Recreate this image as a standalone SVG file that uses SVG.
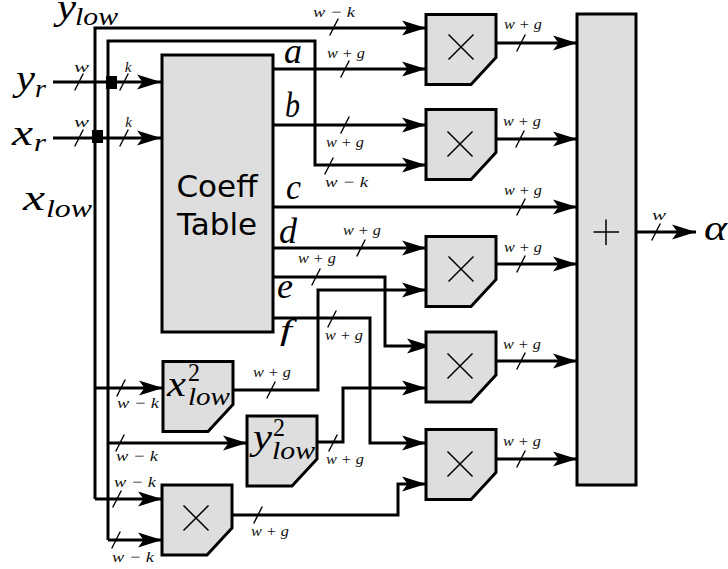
<svg xmlns="http://www.w3.org/2000/svg" width="728" height="569" viewBox="0 0 728 569">
<style>
.box{fill:#dedede;stroke:#000;stroke-width:3;stroke-linejoin:miter}
.sym{fill:none;stroke:#000;stroke-width:1.5}
.w{fill:none;stroke:#000;stroke-width:3;stroke-linejoin:miter}
.a{marker-end:url(#ah)}
.t{fill:none;stroke:#000;stroke-width:1.4}
.m{font-family:"Liberation Serif",serif;font-style:italic;fill:#000}
.big{font-size:36px}
.sub{font-size:25px}
.s{font-size:15px;text-anchor:middle;fill:#111}
.up{font-style:normal}
.co{font-family:"DejaVu Sans",sans-serif;font-size:31px;text-anchor:middle;fill:#000}
</style>
<defs>
<marker id="ah" markerUnits="userSpaceOnUse" markerWidth="26" markerHeight="18" refX="24" refY="8" orient="auto" overflow="visible">
<path d="M24 8L0 0.5L5.5 8L0 15.5Z" fill="#000"/>
</marker>
<path id="mul" class="box" d="M0 0H70V43L45 70H0Z"/>
<path id="cross" class="sym" d="M-12.500-12.500L12.500 12.500M-12.500 12.500L12.500-12.500"/>
<path id="tk" class="t" d="M-4.300 8.500L4.300-8.500"/>
</defs>
<g id="connectors">
<path class="w a" d="M95 499V28H426"/>
<path class="w a" d="M95 499H162"/>
<path class="w a" d="M95 388H163"/>
<path class="w a" d="M108 540V41H315V165H426"/>
<path class="w a" d="M108 443H247"/>
<path class="w a" d="M108 540H162"/>
<path class="w a" d="M53 82H161"/>
<path class="w a" d="M53 138H161"/>
<path class="w a" d="M273 69H426"/>
<path class="w a" d="M273 125H426"/>
<path class="w a" d="M273 207H577"/>
<path class="w a" d="M273 248H426"/>
<path class="w a" d="M273 277H385V346H431"/>
<path class="w a" d="M273 318H370V443H426"/>
<path class="w a" d="M232 390H318V290H426"/>
<path class="w a" d="M316 442H343V388H426"/>
<path class="w a" d="M232 515H398V484H426"/>
<path class="w a" d="M496 43H577"/>
<path class="w a" d="M496 139H577"/>
<path class="w a" d="M496 264H577"/>
<path class="w a" d="M496 361H577"/>
<path class="w a" d="M496 459H577"/>
<path class="w a" d="M636 232H696"/>
<rect x="106" y="76" width="11" height="13" fill="#000"/>
<rect x="92" y="130" width="11" height="13" fill="#000"/>
<use href="#tk" x="79" y="82"/><use href="#tk" x="124" y="82"/>
<use href="#tk" x="79" y="138"/><use href="#tk" x="124" y="138"/>
<use href="#tk" x="334" y="27"/><use href="#tk" x="345" y="69"/>
<use href="#tk" x="345" y="125"/><use href="#tk" x="329" y="166"/>
<use href="#tk" x="521" y="43"/><use href="#tk" x="520" y="139"/>
<use href="#tk" x="521" y="207"/><use href="#tk" x="521" y="264"/>
<use href="#tk" x="521" y="361"/><use href="#tk" x="521" y="459"/>
<use href="#tk" x="361" y="248"/><use href="#tk" x="316" y="277"/>
<use href="#tk" x="332" y="319"/><use href="#tk" x="271" y="390"/>
<use href="#tk" x="333" y="443"/><use href="#tk" x="258" y="515"/>
<use href="#tk" x="121" y="388"/><use href="#tk" x="120" y="443"/>
<use href="#tk" x="117" y="499"/><use href="#tk" x="116" y="540"/>
<use href="#tk" x="656" y="232"/>
</g>
<g id="table"><rect class="box" x="162" y="55" width="111" height="277"/>
<text class="co" x="217" y="197">Coeff</text><text class="co" x="217" y="235">Table</text></g>
<g id="mult1"><use href="#mul" x="426" y="14.500"/><use href="#cross" x="461" y="47"/></g>
<g id="mult2"><use href="#mul" x="426" y="109.500"/><use href="#cross" x="460" y="144"/></g>
<g id="mult3"><use href="#mul" x="426" y="236.500"/><use href="#cross" x="461" y="269"/></g>
<g id="mult4"><use href="#mul" x="426" y="332"/><use href="#cross" x="460" y="366"/></g>
<g id="mult5"><use href="#mul" x="426" y="429.500"/><use href="#cross" x="460" y="464"/></g>
<g id="mult6"><use href="#mul" x="162" y="485"/><use href="#cross" x="196" y="518"/></g>
<g id="square-x"><use href="#mul" x="163" y="361.500"/>
<text class="m big" x="167" y="396" textLength="19" lengthAdjust="spacingAndGlyphs">x</text>
<text class="m sub up" x="188" y="381" textLength="12" lengthAdjust="spacingAndGlyphs">2</text>
<text class="m sub" x="188" y="405" textLength="42" lengthAdjust="spacingAndGlyphs">low</text></g>
<g id="square-y"><use href="#mul" x="247" y="416"/>
<text class="m big" x="253" y="449" textLength="19" lengthAdjust="spacingAndGlyphs">y</text>
<text class="m sub up" x="273" y="436" textLength="12" lengthAdjust="spacingAndGlyphs">2</text>
<text class="m sub" x="272" y="459" textLength="43" lengthAdjust="spacingAndGlyphs">low</text></g>
<g id="adder"><rect class="box" x="577" y="14" width="59" height="471"/>
<path class="sym" d="M593.500 232H619M606 219.500V245"/></g>
<g id="labels">
<text class="m big" x="57" y="19" textLength="19" lengthAdjust="spacingAndGlyphs">y</text>
<text class="m sub" x="75" y="25" textLength="43" lengthAdjust="spacingAndGlyphs">low</text>
<text class="m big" x="23" y="210" textLength="22" lengthAdjust="spacingAndGlyphs">x</text>
<text class="m sub" x="46" y="217" textLength="46" lengthAdjust="spacingAndGlyphs">low</text>
<text class="m big" x="16" y="90" textLength="19" lengthAdjust="spacingAndGlyphs">y</text>
<text class="m sub" x="35" y="97" textLength="11" lengthAdjust="spacingAndGlyphs">r</text>
<text class="m big" x="12" y="145" textLength="21" lengthAdjust="spacingAndGlyphs">x</text>
<text class="m sub" x="34" y="151" textLength="12" lengthAdjust="spacingAndGlyphs">r</text>
<text class="m big" x="284" y="63" textLength="18" lengthAdjust="spacingAndGlyphs">a</text>
<text class="m big" x="285" y="117" textLength="15" lengthAdjust="spacingAndGlyphs">b</text>
<text class="m big" x="286" y="199" textLength="15" lengthAdjust="spacingAndGlyphs">c</text>
<text class="m big" x="279" y="243" textLength="18" lengthAdjust="spacingAndGlyphs">d</text>
<text class="m big" x="277" y="298" textLength="16" lengthAdjust="spacingAndGlyphs">e</text>
<text class="m" font-size="29" x="280" y="340" textLength="12" lengthAdjust="spacingAndGlyphs">f</text>
<text class="m big" x="704" y="240" textLength="23" lengthAdjust="spacingAndGlyphs">α</text>
<text class="m s" x="81.500" y="72" textLength="15" lengthAdjust="spacingAndGlyphs">w</text><text class="m s" x="128" y="72">k</text>
<text class="m s" x="81.500" y="127" textLength="15" lengthAdjust="spacingAndGlyphs">w</text><text class="m s" x="128.500" y="127">k</text>
<text class="m s" x="334" y="17" textLength="42" lengthAdjust="spacingAndGlyphs">w − k</text>
<text class="m s" x="346" y="58" textLength="38" lengthAdjust="spacingAndGlyphs">w + g</text>
<text class="m s" x="345" y="147" textLength="38" lengthAdjust="spacingAndGlyphs">w + g</text>
<text class="m s" x="346.500" y="187" textLength="43" lengthAdjust="spacingAndGlyphs">w − k</text>
<text class="m s" x="523" y="29" textLength="38" lengthAdjust="spacingAndGlyphs">w + g</text>
<text class="m s" x="522" y="126" textLength="38" lengthAdjust="spacingAndGlyphs">w + g</text>
<text class="m s" x="523" y="195" textLength="38" lengthAdjust="spacingAndGlyphs">w + g</text>
<text class="m s" x="523" y="252" textLength="38" lengthAdjust="spacingAndGlyphs">w + g</text>
<text class="m s" x="522" y="349" textLength="38" lengthAdjust="spacingAndGlyphs">w + g</text>
<text class="m s" x="522" y="446" textLength="38" lengthAdjust="spacingAndGlyphs">w + g</text>
<text class="m s" x="362" y="235" textLength="38" lengthAdjust="spacingAndGlyphs">w + g</text>
<text class="m s" x="317" y="263" textLength="38" lengthAdjust="spacingAndGlyphs">w + g</text>
<text class="m s" x="344" y="340" textLength="38" lengthAdjust="spacingAndGlyphs">w + g</text>
<text class="m s" x="272" y="377" textLength="38" lengthAdjust="spacingAndGlyphs">w + g</text>
<text class="m s" x="345" y="464" textLength="38" lengthAdjust="spacingAndGlyphs">w + g</text>
<text class="m s" x="270" y="536" textLength="38" lengthAdjust="spacingAndGlyphs">w + g</text>
<text class="m s" x="138" y="408" textLength="42" lengthAdjust="spacingAndGlyphs">w − k</text>
<text class="m s" x="137" y="461" textLength="42" lengthAdjust="spacingAndGlyphs">w − k</text>
<text class="m s" x="135" y="487" textLength="42" lengthAdjust="spacingAndGlyphs">w − k</text>
<text class="m s" x="133" y="562" textLength="42" lengthAdjust="spacingAndGlyphs">w − k</text>
<text class="m s" x="659" y="220" textLength="14" lengthAdjust="spacingAndGlyphs">w</text>
</g>
</svg>
